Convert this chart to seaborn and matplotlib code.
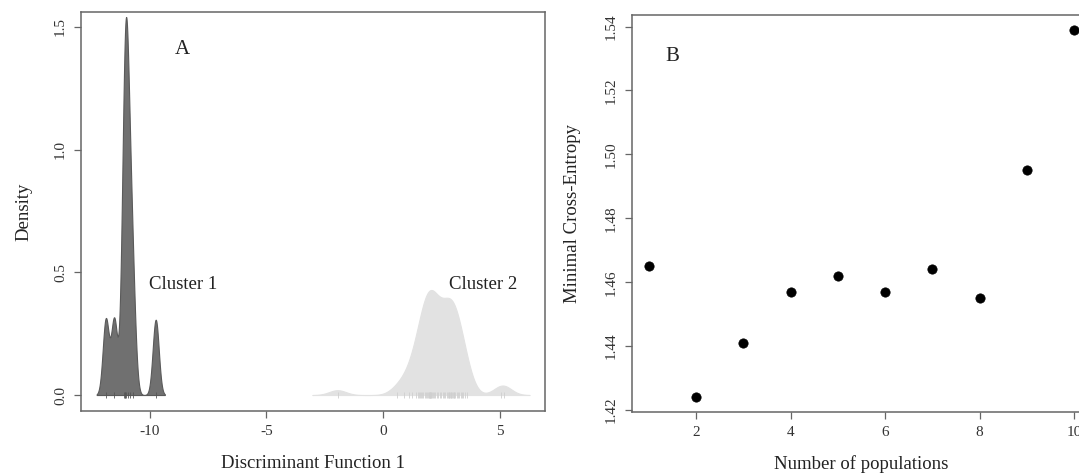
import numpy as np
import matplotlib
matplotlib.use("Agg")
import matplotlib.pyplot as plt
import seaborn as sns

# Panel A: discriminant function 1 scores per cluster (read from rug / density shape)
cluster1 = [-11.88, -11.52, -11.11, -11.06, -11.04, -11.01, -10.94, -10.84,
            -10.72, -9.74]
cluster2 = [-1.95,
            0.6, 0.9, 1.1, 1.25, 1.4, 1.48, 1.53, 1.58, 1.63, 1.68, 1.73,
            1.78, 1.83, 1.88, 1.92, 1.96, 1.97, 2.0, 2.02, 2.03, 2.05, 2.07,
            2.1, 2.12, 2.18, 2.24, 2.3, 2.36, 2.42, 2.48, 2.55, 2.6, 2.66,
            2.72, 2.77, 2.82, 2.84, 2.86, 2.9, 2.92, 2.94, 2.99, 3.02, 3.04,
            3.1, 3.15, 3.2, 3.26, 3.32, 3.38, 3.44, 3.5, 3.6,
            5.05, 5.2]
bw1 = 0.13
bw2 = 0.36

# Panel B: minimal cross-entropy per number of populations
n_pop = [1, 2, 3, 4, 5, 6, 7, 8, 9, 10]
cross_entropy = [1.465, 1.424, 1.441, 1.457, 1.462, 1.457, 1.464, 1.455, 1.495, 1.539]

sns.set_theme(style="ticks")
plt.rcParams['font.family'] = ['Liberation Serif', 'DejaVu Serif']
plt.rcParams['axes.unicode_minus'] = False
plt.rcParams['axes.edgecolor'] = '#666666'
plt.rcParams['xtick.color'] = '#666666'
plt.rcParams['ytick.color'] = '#666666'
plt.rcParams['xtick.labelcolor'] = '#333333'
plt.rcParams['ytick.labelcolor'] = '#333333'

fig = plt.figure(figsize=(10.79, 4.76), dpi=100)
axA = fig.add_axes([0.0751, 0.1366, 0.4300, 0.8382])
axB = fig.add_axes([0.5857, 0.1345, 0.4254, 0.8340])

# --- A ---
sns.kdeplot(x=cluster1, bw_method=bw1 / np.std(cluster1, ddof=1), cut=3, gridsize=800,
            fill=True, color='#707070', alpha=1, edgecolor='#5a5a5a', linewidth=0.8, ax=axA)
sns.kdeplot(x=cluster2, bw_method=bw2 / np.std(cluster2, ddof=1), cut=3, gridsize=600,
            fill=True, color='#e2e2e2', alpha=1, edgecolor='#e2e2e2', linewidth=0.8, ax=axA)
axA.plot(cluster1, np.zeros(len(cluster1)), '|', color='#555555', ms=5, mew=0.6)
axA.plot(cluster2, np.zeros(len(cluster2)), '|', color='#cfcfcf', ms=5, mew=0.6)

axA.set_xlim(-12.94, 6.94)
axA.set_ylim(-0.065, 1.561)
axA.set_xticks([-10, -5, 0, 5])
axA.set_yticks([0.0, 0.5, 1.0, 1.5])
axA.set_yticklabels(['0.0', '0.5', '1.0', '1.5'])
axA.set_xlabel('Discriminant Function 1', fontsize=13.5, color='#222222', labelpad=12)
axA.set_ylabel('Density', fontsize=13.5, color='#222222', labelpad=15.5)
axA.text(-8.6, 1.41, 'A', fontsize=15, color='#222222', ha='center', va='center')
axA.text(-8.55, 0.45, 'Cluster 1', fontsize=13.5, color='#222222', ha='center', va='center')
axA.text(4.3, 0.45, 'Cluster 2', fontsize=13.5, color='#222222', ha='center', va='center')

# --- B ---
sns.scatterplot(x=n_pop, y=cross_entropy, color='black', s=45, edgecolor='black',
                linewidth=0.5, ax=axB)
axB.set_xlim(0.64, 10.36)
axB.set_ylim(1.4194, 1.5436)
axB.set_xticks([2, 4, 6, 8, 10])
axB.set_yticks([1.42, 1.44, 1.46, 1.48, 1.50, 1.52, 1.54])
axB.set_yticklabels(['1.42', '1.44', '1.46', '1.48', '1.50', '1.52', '1.54'])
axB.set_xlabel('Number of populations', fontsize=13.5, color='#222222', labelpad=12)
axB.set_ylabel('Minimal Cross-Entropy', fontsize=13.5, color='#222222', labelpad=17.5)
axB.text(1.5, 1.5305, 'B', fontsize=15, color='#222222', ha='center', va='center')

for ax in (axA, axB):
    for sp in ax.spines.values():
        sp.set_visible(True)
        sp.set_linewidth(1.1)
    ax.tick_params(axis='both', length=5, width=0.9, labelsize=11, pad=5)
    for lab in ax.get_yticklabels():
        lab.set_rotation(90)
        lab.set_va('center')

fig.savefig('out.png', dpi=100)
